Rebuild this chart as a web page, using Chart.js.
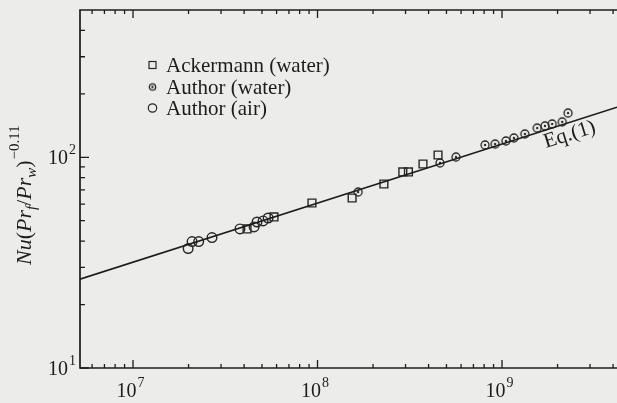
<!DOCTYPE html>
<html>
<head>
<meta charset="utf-8">
<script src="https://cdn.jsdelivr.net/npm/chart.js@4.4.0/dist/chart.umd.min.js"></script>
<style>
  html, body { margin: 0; padding: 0; background: #ececea; }
  #wrap { width: 617px; height: 403px; position: relative; }
</style>
</head>
<body>
<div id="wrap"><canvas id="c"></canvas></div>
<script>
// values (Ra on x, Nu(Prf/Prw)^-0.11 on y)
const ackX = [4.15e7, 5.81e7, 9.33e7, 1.54e8, 2.29e8, 2.9e8, 3.11e8, 3.73e8, 4.5e8];
const ackY = [45.7, 52.1, 60.7, 64.1, 74.7, 85.2, 85.2, 92.9, 102.5];
const waterX = [1.66e8, 4.61e8, 5.63e8, 8.09e8, 9.17e8, 1.05e9, 1.16e9, 1.33e9, 1.55e9, 1.71e9, 1.87e9, 2.12e9, 2.28e9];
const waterY = [68.4, 94.0, 100.3, 114.4, 115.6, 119.5, 123.5, 129.0, 137.7, 140.9, 143.9, 147.2, 162.2];
const airX = [1.99e7, 2.09e7, 2.27e7, 2.68e7, 3.8e7, 4.53e7, 4.7e7, 5.07e7, 5.4e7];
const airY = [36.9, 39.8, 39.8, 41.6, 45.7, 46.7, 49.3, 49.9, 51.5];
const eqX = [5.16e6, 4.2e9];
const eqY = [26.4, 173];

const legendNames = ["Ackermann (water)", "Author (water)", "Author (air)"];
const xRange = [5.16e6, 4.2e9];
const yRange = [10, 500];
const xMajor = [1e7, 1e8, 1e9];
const xMajorExp = ["7", "8", "9"];
const xMinor = [6e6, 7e6, 8e6, 9e6, 2e7, 3e7, 4e7, 5e7, 6e7, 7e7, 8e7, 9e7,
  2e8, 3e8, 4e8, 5e8, 6e8, 7e8, 8e8, 9e8, 2e9, 3e9, 4e9];
const yMajor = [10, 100];
const yMajorExp = ["1", "2"];
const yMinor = [20, 30, 40, 50, 60, 70, 80, 90, 200, 300, 400];

const ink = "#1c1c1c";
const serif = "'Liberation Serif', 'DejaVu Serif', serif";

const pts = (xs, ys) => xs.map((v, i) => ({ x: v, y: ys[i] }));

function dotCircle(r) {
  const c = document.createElement("canvas");
  const s = Math.ceil(r * 2 + 4);
  c.width = s;
  c.height = s;
  const g = c.getContext("2d");
  g.strokeStyle = "#262626";
  g.lineWidth = 1.3;
  g.beginPath();
  g.arc(s / 2, s / 2, r, 0, Math.PI * 2);
  g.stroke();
  g.fillStyle = "#262626";
  g.beginPath();
  g.arc(s / 2, s / 2, 1.2, 0, Math.PI * 2);
  g.fill();
  return c;
}
const waterMark = dotCircle(4);

function drawPow(ctx, exp, x, y, mode) {
  ctx.font = "20px " + serif;
  const w1 = ctx.measureText("10").width;
  ctx.font = "14px " + serif;
  const w2 = ctx.measureText(exp).width;
  let sx, base;
  if (mode === "x") {
    sx = x - (w1 + w2) / 2;
    base = y;
  } else {
    sx = x - w1 - w2;
    base = y + 7;
  }
  ctx.textAlign = "left";
  ctx.textBaseline = "alphabetic";
  ctx.font = "20px " + serif;
  ctx.fillText("10", sx, base);
  ctx.font = "14px " + serif;
  ctx.fillText(exp, sx + w1 + 1, base - 10);
}

const framePlugin = {
  id: "frame",
  afterDraw(chart) {
    const { ctx, chartArea: { left, right, top, bottom }, scales: { x, y } } = chart;
    ctx.save();
    ctx.strokeStyle = ink;
    ctx.fillStyle = ink;
    ctx.lineWidth = 1.7;
    ctx.beginPath();
    ctx.moveTo(right, top);
    ctx.lineTo(left, top);
    ctx.lineTo(left, bottom);
    ctx.lineTo(right, bottom);
    ctx.stroke();

    // inward ticks
    ctx.lineWidth = 1.3;
    ctx.beginPath();
    xMajor.forEach((v) => {
      const px = x.getPixelForValue(v);
      ctx.moveTo(px, bottom); ctx.lineTo(px, bottom - 8);
      ctx.moveTo(px, top); ctx.lineTo(px, top + 8);
    });
    xMinor.forEach((v) => {
      const px = x.getPixelForValue(v);
      ctx.moveTo(px, bottom); ctx.lineTo(px, bottom - 4);
      ctx.moveTo(px, top); ctx.lineTo(px, top + 4);
    });
    yMajor.forEach((v) => {
      const py = y.getPixelForValue(v);
      ctx.moveTo(left, py); ctx.lineTo(left + 9, py);
    });
    yMinor.forEach((v) => {
      const py = y.getPixelForValue(v);
      ctx.moveTo(left, py); ctx.lineTo(left + 5, py);
    });
    ctx.stroke();

    xMajor.forEach((v, i) => drawPow(ctx, xMajorExp[i], x.getPixelForValue(v) - 3, 397, "x"));
    yMajor.forEach((v, i) => drawPow(ctx, yMajorExp[i], left - 5, y.getPixelForValue(v), "y"));

    // y title, rotated
    ctx.save();
    ctx.translate(31, 265);
    ctx.rotate(-Math.PI / 2);
    ctx.textBaseline = "alphabetic";
    ctx.textAlign = "left";
    let cx = 0;
    const part = (t, font, dy) => {
      ctx.font = font;
      ctx.fillText(t, cx, dy);
      cx += ctx.measureText(t).width;
    };
    const it = "italic 22px " + serif, rm = "22px " + serif;
    const sub = "italic 15px " + serif, sup = "15px " + serif;
    part("Nu", it, 0);
    part("(", rm, 0);
    part("Pr", it, 0);
    part("f", sub, 5);
    part("/", rm, 0);
    part("Pr", it, 0);
    part("w", sub, 5);
    part(")", rm, 0);
    cx += 1;
    part("\u22120.11", sup, -12);
    ctx.restore();

    // Eq.(1) label along the line
    ctx.save();
    ctx.translate(546, 148);
    ctx.rotate(-17.5 * Math.PI / 180);
    ctx.font = "21px " + serif;
    ctx.textAlign = "left";
    ctx.fillText("Eq.(1)", 0, 0);
    ctx.restore();

    // legend
    ctx.font = "21px " + serif;
    ctx.textBaseline = "middle";
    const rows = [65, 87, 108];
    ctx.lineWidth = 1.2;
    ctx.strokeStyle = "#262626";
    ctx.strokeRect(149, rows[0] - 3.5, 7, 7);
    ctx.drawImage(dotCircle(3.2), 152.5 - 5.5, rows[1] - 5.5);
    ctx.beginPath();
    ctx.arc(152.5, rows[2], 4.2, 0, Math.PI * 2);
    ctx.stroke();
    legendNames.forEach((t, i) => ctx.fillText(t, 166, rows[i] + 1));
    ctx.restore();
  },
};

new Chart(document.getElementById("c"), {
  type: "scatter",
  data: {
    datasets: [
      {
        label: "Eq.(1)",
        data: pts(eqX, eqY),
        showLine: true,
        borderColor: ink,
        borderWidth: 1.5,
        pointRadius: 0,
      },
      {
        label: legendNames[0],
        data: pts(ackX, ackY),
        pointStyle: "rect",
        pointRadius: 5.5,
        borderColor: "#262626",
        borderWidth: 1.4,
        backgroundColor: "rgba(0,0,0,0)",
      },
      {
        label: legendNames[1],
        data: pts(waterX, waterY),
        pointStyle: waterMark,
      },
      {
        label: legendNames[2],
        data: pts(airX, airY),
        pointStyle: "circle",
        pointRadius: 4.8,
        borderColor: "#262626",
        borderWidth: 1.4,
        backgroundColor: "rgba(0,0,0,0)",
      },
    ],
  },
  options: {
    responsive: true,
    maintainAspectRatio: false,
    animation: false,
    layout: { autoPadding: false, padding: { top: 10, right: 0, left: 0, bottom: 0 } },
    scales: {
      x: {
        type: "logarithmic",
        min: xRange[0],
        max: xRange[1],
        grid: { display: false },
        border: { display: false },
        ticks: { display: false },
        afterFit: (s) => {
          s.height = 35;
          s.paddingLeft = 0;
          s.paddingRight = 0;
        },
      },
      y: {
        type: "logarithmic",
        min: yRange[0],
        max: yRange[1],
        grid: { display: false },
        border: { display: false },
        ticks: { display: false },
        afterFit: (s) => {
          s.width = 80;
          s.paddingTop = 0;
          s.paddingBottom = 0;
        },
      },
    },
    plugins: { legend: { display: false }, tooltip: { enabled: false } },
  },
  plugins: [framePlugin],
});
</script>
</body>
</html>
